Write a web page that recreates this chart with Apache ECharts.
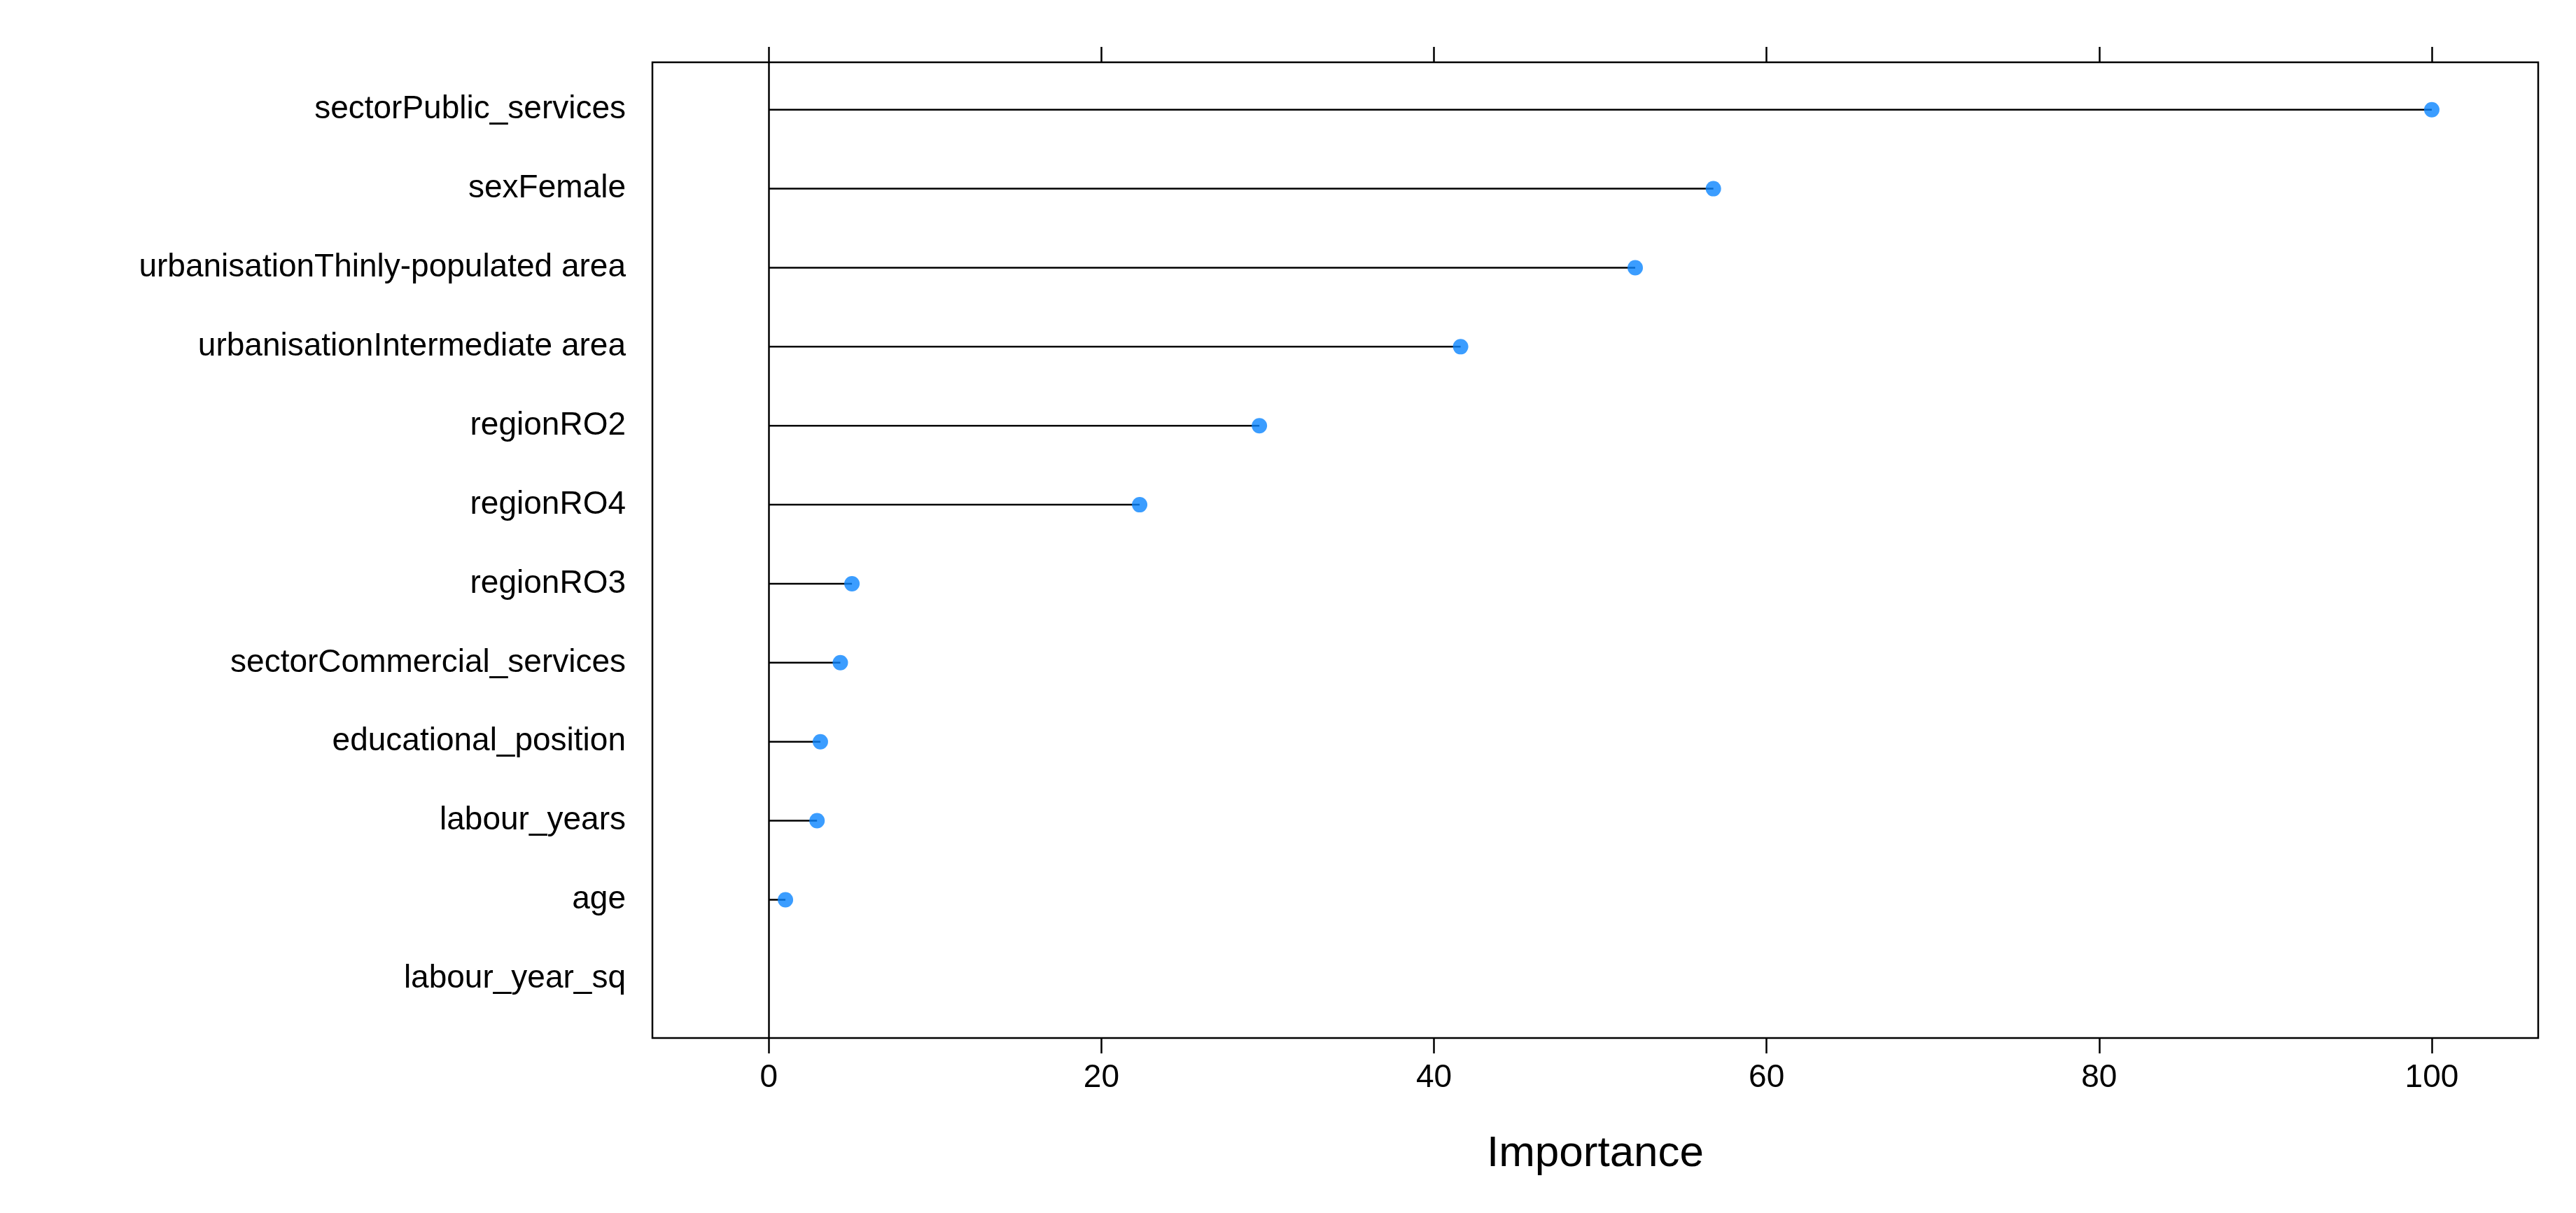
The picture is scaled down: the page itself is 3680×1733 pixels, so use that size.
<!DOCTYPE html>
<html>
<head>
<meta charset="utf-8">
<script src="https://cdn.jsdelivr.net/npm/echarts@6/dist/echarts.min.js"></script>
<style>html,body{margin:0;padding:0;background:#fff}#chart{width:3680px;height:1733px}</style>
</head>
<body>
<div id="chart"></div>
<script>
var features = ['sectorPublic_services', 'sexFemale', 'urbanisationThinly-populated area',
    'urbanisationIntermediate area', 'regionRO2', 'regionRO4', 'regionRO3',
    'sectorCommercial_services', 'educational_position', 'labour_years', 'age', 'labour_year_sq'];
var importance = [100, 56.8, 52.1, 41.6, 29.5, 22.3, 5.0, 4.3, 3.1, 2.9, 1.0, 0];
var xTicks = [0, 20, 40, 60, 80, 100];

var pts = importance.map(function(v, i) { return [v, i]; });
var chart = echarts.init(document.getElementById('chart'));
var font = 'Liberation Sans, Arial, sans-serif';

var xCommon = {
    type: 'value', min: -7, max: 106.4, interval: 20,
    splitLine: { show: false },
    axisLine: { show: false, onZero: false },
    axisTick: { show: true, length: 22, lineStyle: { color: '#000', width: 2.5 }, customValues: xTicks },
    axisLabel: { customValues: xTicks, fontFamily: font, fontSize: 46, color: '#000', margin: 34 }
};

chart.setOption({
    backgroundColor: '#fff',
    animation: false,
    grid: { left: 932, right: 54, top: 89, bottom: 250, show: true, borderColor: '#000', borderWidth: 2.5, backgroundColor: 'transparent' },
    xAxis: [
        Object.assign({}, xCommon, { position: 'bottom', name: 'Importance', nameLocation: 'middle', nameGap: 135,
            nameTextStyle: { fontFamily: font, fontSize: 62, color: '#000' } }),
        Object.assign({}, xCommon, { position: 'top', axisLabel: { show: false } })
    ],
    yAxis: {
        type: 'value', inverse: true, min: -0.6, max: 11.75, interval: 1,
        splitLine: { show: false }, axisLine: { show: false, onZero: false }, axisTick: { show: false },
        axisLabel: {
            customValues: features.map(function(f, i) { return i; }),
            formatter: function(v) { return features[Math.round(v)] || ''; },
            fontFamily: font, fontSize: 46, color: '#000', margin: 38
        }
    },
    series: [
        {
            type: 'custom',
            data: pts,
            renderItem: function(params, api) {
                var a = api.coord([0, api.value(1)]);
                var b = api.coord([api.value(0), api.value(1)]);
                return { type: 'line', shape: { x1: a[0], y1: a[1], x2: b[0], y2: b[1] }, style: { stroke: '#000', lineWidth: 2.5 } };
            },
            markLine: {
                silent: true, symbol: 'none', label: { show: false },
                lineStyle: { color: '#000', width: 2.5, type: 'solid' },
                data: [{ xAxis: 0 }]
            },
            z: 2
        },
        {
            type: 'scatter',
            data: pts.filter(function(p) { return p[0] > 0; }),
            symbol: 'circle', symbolSize: 22,
            itemStyle: { color: '#0A84FF' },
            z: 3
        }
    ]
});
</script>
</body>
</html>
